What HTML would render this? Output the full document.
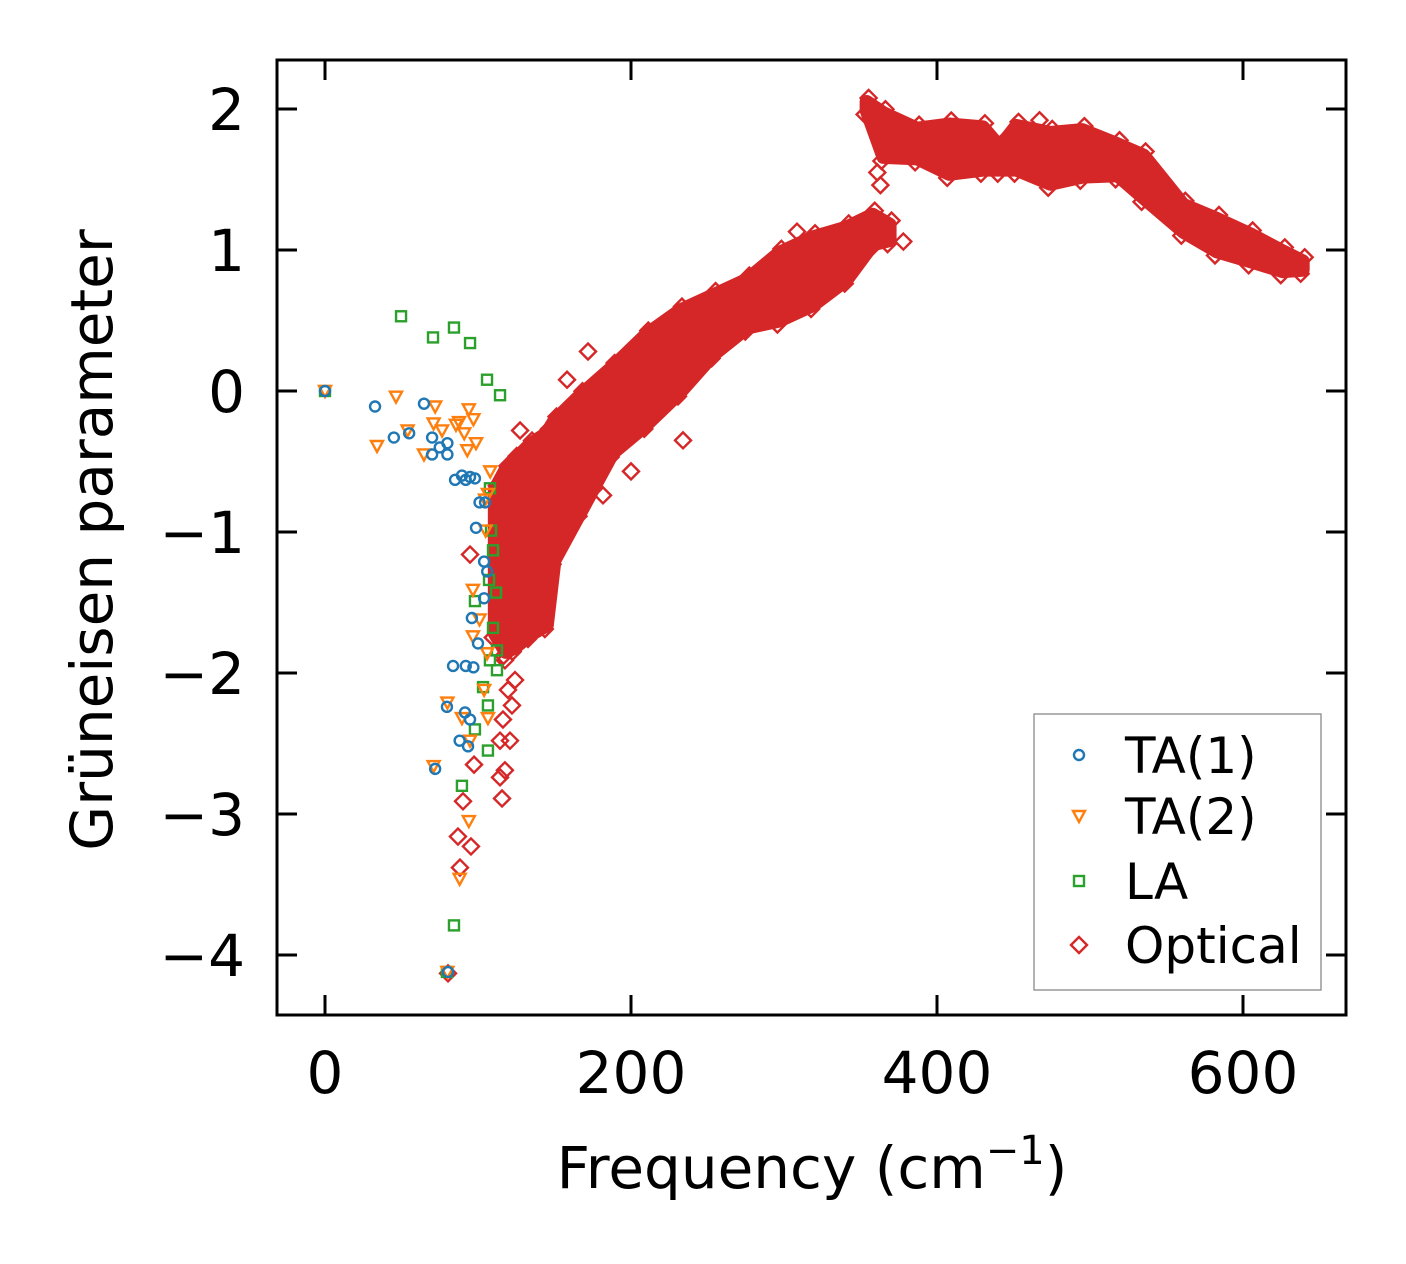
<!DOCTYPE html>
<html><head><meta charset="utf-8">
<style>
html,body{margin:0;padding:0;background:#fff;}
svg{display:block;font-family:"DejaVu Sans","Liberation Sans",sans-serif;}
</style></head>
<body>
<svg id="chart" width="1406" height="1264" viewBox="0 0 1406 1264" xmlns="http://www.w3.org/2000/svg">
<rect x="0" y="0" width="1406" height="1264" fill="#fff"/>
<g id="plot"></g>
<g id="axes"></g>
</svg>
<script>
// ---- data ----
const xTicks = [0, 200, 400, 600];
const yTicks = [2, 1, 0, -1, -2, -3, -4];
const yTickLabels = ["2", "1", "0", "\u22121", "\u22122", "\u22123", "\u22124"];

const ta1Freq = [0,32.7,45,55,64.7,70,70,75,80,80,85,89.5,92,94.8,98,101,104.6,98.7,104,106,104,96,100,83.7,92,97,79.7,91.5,94.8,88,93.5,72,80.4];
const ta1Gamma = [0,-0.11,-0.33,-0.30,-0.09,-0.33,-0.45,-0.40,-0.45,-0.37,-0.63,-0.60,-0.63,-0.61,-0.62,-0.79,-0.79,-0.97,-1.21,-1.28,-1.47,-1.61,-1.79,-1.95,-1.95,-1.96,-2.24,-2.28,-2.33,-2.48,-2.52,-2.68,-4.12];

const ta2Freq = [0,34,46.4,54,72,71,64.7,76.5,85.6,87.6,94,91,93,97,98.7,108,106.5,104.6,105,96.7,101,96.7,106,104,80,89.5,106.5,94.8,71,94,88,80];
const ta2Gamma = [0,-0.39,-0.04,-0.28,-0.11,-0.23,-0.45,-0.28,-0.24,-0.22,-0.13,-0.30,-0.42,-0.20,-0.37,-0.57,-0.73,-0.77,-0.99,-1.41,-1.62,-1.74,-1.86,-2.12,-2.21,-2.32,-2.32,-2.48,-2.66,-3.05,-3.46,-4.12];

const laFreq = [0,49.7,70.6,84.3,94.8,105.9,114.4,107.8,108.5,109.8,107.2,111.8,98,109.8,112.4,107.8,103.3,112.4,106.5,98,106.5,89.5,84.3,79.7];
const laGamma = [0,0.53,0.38,0.45,0.34,0.08,-0.03,-0.69,-0.99,-1.13,-1.34,-1.43,-1.49,-1.68,-1.84,-1.91,-2.10,-1.98,-2.23,-2.40,-2.55,-2.80,-3.79,-4.12];

// optical band envelope (lower branch)
const opticalLowFreq  = [111,118,124,134,145,150,167,188,210,232,254,276,297,319,341,358,369];
const opticalLowUpper = [-0.70,-0.56,-0.49,-0.38,-0.30,-0.21,-0.03,0.17,0.40,0.57,0.68,0.79,0.98,1.09,1.16,1.25,1.18];
const opticalLowLower = [-1.72,-1.85,-1.82,-1.73,-1.66,-1.20,-0.86,-0.44,-0.24,-0.01,0.26,0.45,0.50,0.61,0.79,1.04,1.07];
// optical band envelope (upper branch)
const opticalHighFreq  = [354,365,387,408,430,441,452,474,495,518,535,561,583,605,626,639];
const opticalHighUpper = [2.05,1.97,1.86,1.89,1.87,1.73,1.88,1.83,1.85,1.75,1.67,1.32,1.22,1.11,0.99,0.92];
const opticalHighLower = [1.99,1.66,1.65,1.54,1.57,1.57,1.57,1.47,1.52,1.53,1.37,1.13,0.99,0.92,0.85,0.86];
// isolated optical points
const opticalFreq  = [94.8,97.4,90.2,86.9,95.4,88.2,80.4,115.7,171.9,158.2,234,308.5,200,181.7,467,378,363,361,127.5,140.5,117.6,119.6,116.3,120.9,117.6,114.4,124.2,122.2,114.4];
const opticalGamma = [-1.16,-2.65,-2.91,-3.16,-3.23,-3.38,-4.13,-2.89,0.28,0.08,-0.35,1.13,-0.57,-0.74,1.92,1.06,1.46,1.55,-0.28,-0.35,-1.91,-2.12,-2.33,-2.48,-2.69,-2.74,-2.05,-2.23,-2.48];

// ---- axes ----
const L = 277, R = 1346, T = 60, B = 1015;
function xs(f){ return 325 + f * 1.53; }
function ys(g){ return 391 - g * 141; }

const NS = "http://www.w3.org/2000/svg";
const plot = document.getElementById('plot');
const axes = document.getElementById('axes');
function mk(tag, parent){ const e = document.createElementNS(NS, tag); parent.appendChild(e); return e; }

const C1 = "#1f77b4", C2 = "#ff7f0e", C3 = "#2ca02c", C4 = "#d62728";

function circle(g, cx, cy){
  const e = mk('circle', g);
  e.setAttribute('cx', cx); e.setAttribute('cy', cy); e.setAttribute('r', 5);
  e.setAttribute('fill', 'none'); e.setAttribute('stroke', C1); e.setAttribute('stroke-width', 2.4);
  return e;
}
function tri(g, cx, cy, col){
  const e = mk('polygon', g);
  e.setAttribute('points', `${cx-6},${cy-5} ${cx+6},${cy-5} ${cx},${cy+6}`);
  e.setAttribute('fill', 'none'); e.setAttribute('stroke', col || C2); e.setAttribute('stroke-width', 2.4);
  return e;
}
function sq(g, cx, cy){
  const e = mk('rect', g);
  e.setAttribute('x', cx-5); e.setAttribute('y', cy-5); e.setAttribute('width', 10); e.setAttribute('height', 10);
  e.setAttribute('fill', 'none'); e.setAttribute('stroke', C3); e.setAttribute('stroke-width', 2.4);
  return e;
}
function dia(g, cx, cy){
  const e = mk('polygon', g);
  e.setAttribute('points', `${cx},${cy-8} ${cx+8},${cy} ${cx},${cy+8} ${cx-8},${cy}`);
  e.setAttribute('fill', 'none'); e.setAttribute('stroke', C4); e.setAttribute('stroke-width', 2.4);
  return e;
}

// optical band
function band(freq, up, lo, name){
  const pts = [];
  for (let i = 0; i < freq.length; i++) pts.push(xs(freq[i]) + ',' + ys(up[i]));
  for (let i = freq.length - 1; i >= 0; i--) pts.push(xs(freq[i]) + ',' + ys(lo[i]));
  const p = mk('polygon', plot);
  
  
  p.setAttribute('points', pts.join(' '));
  p.setAttribute('fill', C4); p.setAttribute('stroke', C4);
  p.setAttribute('stroke-width', 14); p.setAttribute('stroke-linejoin', 'round');
  const g = mk('g', plot);
  
  
  for (let i = 0; i < freq.length; i++) {
    const a = dia(g, xs(freq[i]) + 2, ys(up[i]) - 4);
    
    
    const b = dia(g, xs(freq[i]) - 2, ys(lo[i]) + 4);
    
    
  }
}
band(opticalLowFreq, opticalLowUpper, opticalLowLower, 'optical-band-low');
band(opticalHighFreq, opticalHighUpper, opticalHighLower, 'optical-band-high');

const gOpt = mk('g', plot);


for (let i = 0; i < opticalFreq.length; i++) {
  const e = dia(gOpt, xs(opticalFreq[i]), ys(opticalGamma[i]));
  
  
}
const gLA = mk('g', plot);


for (let i = 0; i < laFreq.length; i++) {
  const e = sq(gLA, xs(laFreq[i]), ys(laGamma[i]));
  
  
}
const gTA2 = mk('g', plot);


for (let i = 0; i < ta2Freq.length; i++) {
  const e = tri(gTA2, xs(ta2Freq[i]), ys(ta2Gamma[i]));
  
  
}
const gTA1 = mk('g', plot);


for (let i = 0; i < ta1Freq.length; i++) {
  const e = circle(gTA1, xs(ta1Freq[i]), ys(ta1Gamma[i]));
  
  
}

// frame
const frame = mk('rect', axes);


frame.setAttribute('x', L); frame.setAttribute('y', T);
frame.setAttribute('width', R - L); frame.setAttribute('height', B - T);
frame.setAttribute('fill', 'none'); frame.setAttribute('stroke', '#000'); frame.setAttribute('stroke-width', 3);

function line(x1, y1, x2, y2, name){
  const e = mk('line', axes);
  
  
  e.setAttribute('x1', x1); e.setAttribute('y1', y1); e.setAttribute('x2', x2); e.setAttribute('y2', y2);
  e.setAttribute('stroke', '#000'); e.setAttribute('stroke-width', 3);
}
function text(x, y, s, anchor, size, name){
  const e = mk('text', axes);
  
  
  e.setAttribute('x', x); e.setAttribute('y', y);
  e.setAttribute('text-anchor', anchor); e.setAttribute('font-size', size);
  e.textContent = s;
  return e;
}
xTicks.forEach(v => {
  const x = xs(v);
  line(x, B, x, B - 20, 'x-tick');
  line(x, T, x, T + 20, 'x-tick-top');
  text(x, 1093, String(v), 'middle', 58, 'x-tick-label');
});
yTicks.forEach((v, i) => {
  const y = ys(v);
  line(L, y, L + 20, y, 'y-tick');
  line(R, y, R - 20, y, 'y-tick-right');
  text(245, y + 21, yTickLabels[i], 'end', 58, 'y-tick-label');
});

// axis titles
const xt = text(812, 1188, '', 'middle', 58, 'x-axis-title');
xt.innerHTML = 'Frequency (cm<tspan font-size="40" dy="-24">\u22121</tspan><tspan dy="24">)</tspan>';
const yt = text(0, 0, 'Gr\u00fcneisen parameter', 'middle', 58, 'y-axis-title');
yt.setAttribute('transform', 'translate(112,540) rotate(-90)');

// legend
const lg = mk('rect', axes);


lg.setAttribute('x', 1034); lg.setAttribute('y', 714); lg.setAttribute('width', 287); lg.setAttribute('height', 276);
lg.setAttribute('fill', '#fff'); lg.setAttribute('stroke', '#999'); lg.setAttribute('stroke-width', 1.5);
const legY = [755, 816, 881, 945];
const legNames = ['TA(1)', 'TA(2)', 'LA', 'Optical'];
const m1 = circle(axes, 1079, legY[0]);


const m2 = tri(axes, 1079, legY[1]);


const m3 = sq(axes, 1079, legY[2]);


const m4 = dia(axes, 1079, legY[3]);


legNames.forEach((n, i) => {
  text(1125, legY[i] + 18, n, 'start', 50, 'legend-label');
});
</script>
</body></html>
